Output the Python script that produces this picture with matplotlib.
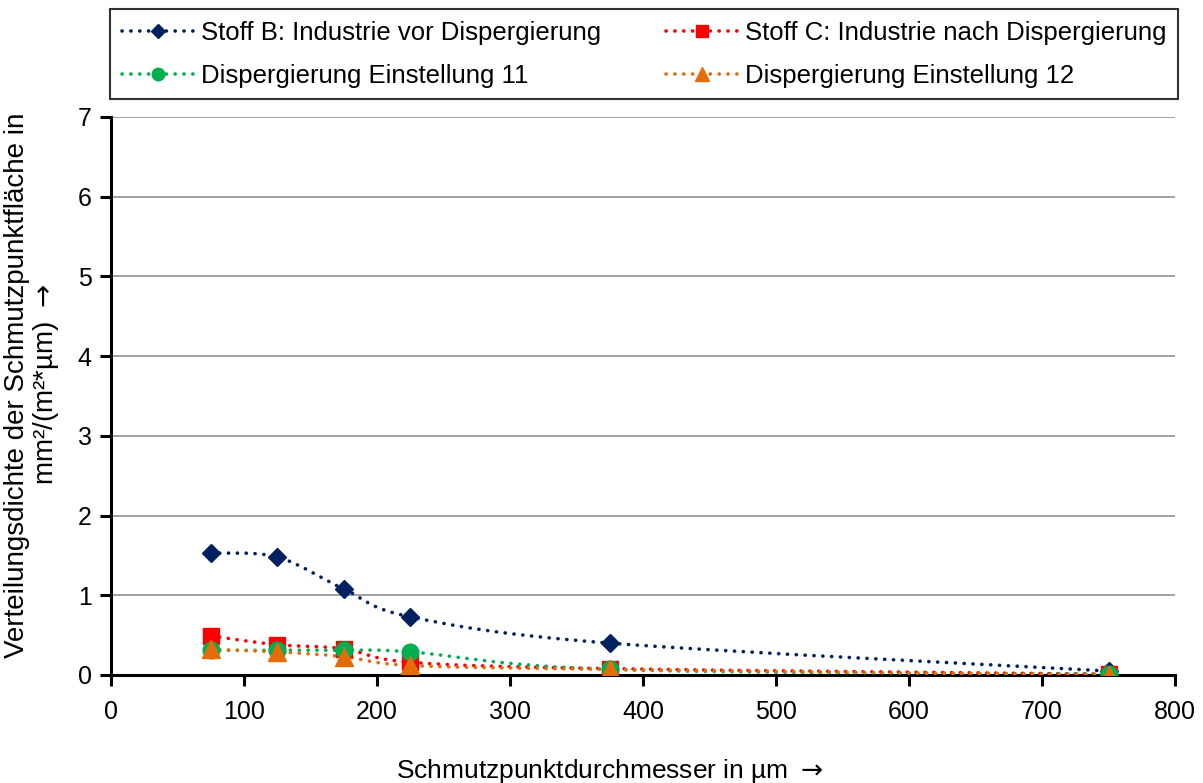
import numpy as np
import matplotlib
matplotlib.use("Agg")
import matplotlib.pyplot as plt
from matplotlib.path import Path
from matplotlib.patches import PathPatch
from matplotlib.lines import Line2D

plt.rcParams["font.family"] = ["Liberation Sans", "DejaVu Sans"]

# data
durchmesser = [75, 125, 175, 225, 375, 750]
stoff_b = [1.53, 1.48, 1.08, 0.73, 0.40, 0.05]
stoff_c = [0.49, 0.38, 0.33, 0.16, 0.08, 0.01]
einst_11 = [0.31, 0.31, 0.31, 0.29, 0.07, 0.01]
einst_12 = [0.32, 0.29, 0.23, 0.12, 0.07, 0.00]

labels = ["Stoff B: Industrie vor Dispergierung",
          "Stoff C: Industrie nach Dispergierung",
          "Dispergierung Einstellung 11",
          "Dispergierung Einstellung 12"]
colors = ["#002060", "#FF0000", "#00B050", "#E46C0A"]
markers = ["D", "s", "o", "^"]
msizes = [9, 11, 12, 13]

DOTS = (0, (0.05, 2.4))


def smooth_path(x, y, t=1.0 / 6):
    # Excel-like smoothed line as a chain of cubic Bezier segments
    pts = np.column_stack([x, y]).astype(float)
    verts = [pts[0]]
    codes = [Path.MOVETO]
    n = len(pts)
    for i in range(n - 1):
        p0 = pts[i - 1] if i > 0 else pts[i]
        p1, p2 = pts[i], pts[i + 1]
        p3 = pts[i + 2] if i + 2 < n else pts[i + 1]
        c1 = p1 + (p2 - p0) * t
        c2 = p2 - (p3 - p1) * t
        verts += [c1, c2, p2]
        codes += [Path.CURVE4] * 3
    return Path(verts, codes)


fig = plt.figure(figsize=(12.03, 7.83), dpi=100)
ax = fig.add_axes([111 / 1203, 1 - 675 / 783, (1175 - 111) / 1203, (675 - 117) / 783])

handles = []
for ys, lab, c, m, ms in zip([stoff_b, stoff_c, einst_11, einst_12], labels, colors, markers, msizes):
    patch = PathPatch(smooth_path(durchmesser, ys), fill=False, edgecolor=c,
                      lw=2.6, linestyle=DOTS, capstyle="round", zorder=3)
    ax.add_patch(patch)
    ax.plot(durchmesser, ys, linestyle="none", marker=m, ms=ms, color=c, zorder=4)
    handles.append(Line2D([], [], color=c, lw=2.6, linestyle=DOTS, dash_capstyle="round",
                          marker=m, ms=ms, label=lab))

ax.set_xlim(0, 800)
ax.set_ylim(0, 7)
ax.set_xticks(range(0, 801, 100))
ax.set_yticks(range(0, 8))
ax.yaxis.grid(True, color="#999999", lw=1.3)
ax.set_axisbelow(True)
for s in ["top", "right"]:
    ax.spines[s].set_visible(False)
for s in ["left", "bottom"]:
    ax.spines[s].set_linewidth(2.2)
    ax.spines[s].set_color("black")
ax.tick_params(axis="both", direction="out", width=2.2, length=8, labelsize=18, pad=6)
ax.tick_params(axis="x", pad=10)

ax.set_xlabel("Schmutzpunktdurchmesser in µm $\\rightarrow$", fontsize=19, labelpad=24)
ax.set_ylabel("Verteilungsdichte der Schmutzpunktfläche in\nmm²/(m²*µm) $\\rightarrow$",
              fontsize=20, labelpad=12, linespacing=1.05)
ax.xaxis.label.set_x(0.469)
ax.yaxis.label.set_y(0.52)

# legend fills row-wise: B, C / 11, 12
order = [0, 2, 1, 3]
leg = fig.legend(handles=[handles[i] for i in order], ncol=2, loc="upper left",
                 bbox_to_anchor=(110 / 1203, 1 - 9 / 783), borderaxespad=0,
                 fontsize=18.5, frameon=True, fancybox=False,
                 edgecolor="black", handlelength=2.8, handletextpad=0.3,
                 borderpad=0.45, labelspacing=0.75, columnspacing=2.5, markerscale=0.75)
leg.get_frame().set_linewidth(1.5)

plt.savefig("out.png", dpi=100)
plt.close()
